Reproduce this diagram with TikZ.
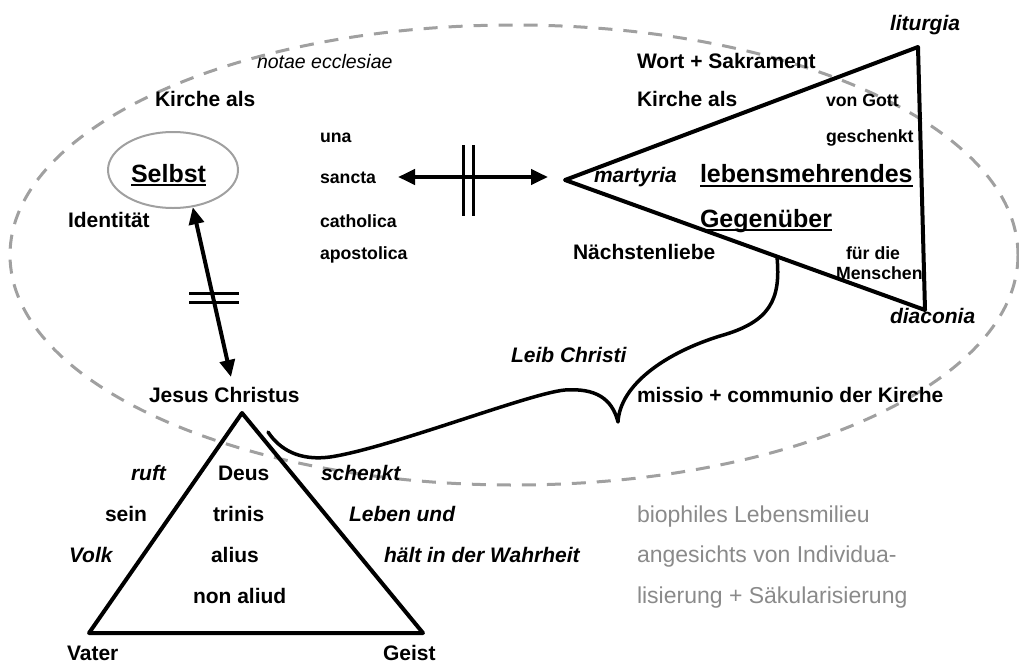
\documentclass[tikz,border=0pt]{standalone}
\usepackage{fontspec}
\setmainfont{Liberation Sans}
\usetikzlibrary{arrows.meta,shapes.geometric}
\definecolor{dgray}{HTML}{A0A0A0}
\definecolor{gtext}{HTML}{8A8A8A}
\begin{document}
\begin{tikzpicture}[x=1pt,y=-1pt,
  txt/.style={anchor=base west, inner sep=0pt, outer sep=0pt},
  bf/.style={txt, font=\bfseries\fontsize{21}{25}\selectfont},
  bfs/.style={txt, font=\bfseries\fontsize{17.7}{21}\selectfont},
  bfl/.style={txt, font=\bfseries\fontsize{25}{30}\selectfont},
  bi/.style={txt, font=\bfseries\itshape\fontsize{21}{25}\selectfont},
  itx/.style={txt, font=\itshape\fontsize{19.5}{23}\selectfont},
  gr/.style={txt, font=\fontsize{23}{27}\selectfont, text=gtext},
  heavy/.style={line width=4pt, line join=round},
  dblarrow/.style={line width=4pt, {Triangle[length=17pt,width=15pt]}-{Triangle[length=17pt,width=15pt]}},
  barline/.style={line width=3pt},
  uline/.style={line width=2pt},
]
\useasboundingbox (0,0) rectangle (1019,664);
% background dashed ellipse
\draw[dgray, line width=3pt, dash pattern=on 14pt off 11pt] (514,255) ellipse [x radius=504, y radius=230];

% Selbst
\node[draw=dgray, line width=2pt, ellipse, minimum width=130pt, minimum height=76pt] (selbstE) at (173,170) {};
\node[bfl] (selbst) at (131,182) {Selbst};
\draw[uline] ([yshift=-3pt]selbst.base west) -- ([yshift=-3pt]selbst.base east);

\node[itx] (notae) at (257,68) {notae ecclesiae};
\node[bf] (kirche1) at (155,106) {Kirche als};
\node[bf] (ident) at (68,227) {Identität};

\node[bfs] (una) at (320,142) {una};
\node[bfs] (sancta) at (320,183) {sancta};
\node[bfs] (cath) at (320,227) {catholica};
\node[bfs] (apos) at (320,259) {apostolica};

% right triangle
\coordinate (tl) at (565,180);
\coordinate (tt) at (918,47);
\coordinate (tb) at (925,310);
\draw[heavy] (tl) -- (tt) -- (tb) -- cycle;

\node[bi] (lit) at (890,30) {liturgia};
\node[bf] (wort) at (637,68) {Wort + Sakrament};
\node[bf] (kirche2) at (637,106) {Kirche als};
\node[bfs] (vongott) at (826,106) {von Gott};
\node[bfs] (gesch) at (826,142) {geschenkt};
\node[bi] (mart) at (594,182) {martyria};
\node[bfl] (lebens) at (700,182) {lebensmehrendes};
\draw[uline] ([yshift=-4pt]lebens.base west) -- ([yshift=-4pt]lebens.base east);
\node[bfl] (gegen) at (700,227) {Gegenüber};
\draw[uline] ([yshift=-3pt]gegen.base west) -- ([yshift=-3pt]gegen.base east);
\node[bf] (naechst) at (573,259) {Nächstenliebe};
\node[bfs] (fuer) at (846,259) {für die};
\node[bfs] (mensch) at (836,279) {Menschen};
\node[bi] (diac) at (890,323) {diaconia};

% horizontal arrow with double bar
\coordinate (hl) at (398,177);
\coordinate (hr) at (548,177);
\draw[dblarrow] (hl) -- (hr);
\draw[barline] (463,145) -- (463,216);
\draw[barline] (473,145) -- (473,216);

% vertical arrow with double bar
\coordinate (vt) at (231,377);
\draw[dblarrow] (selbstE.-62) -- (vt);
\draw[barline] (189,293) -- (239,293);
\draw[barline] (189,302) -- (239,302);

% trinity triangle
\coordinate (ja) at (242,413);
\coordinate (jl) at (89,633);
\coordinate (jr) at (423,633);
\draw[heavy] (ja) -- (jl) -- (jr) -- cycle;

\node[bf] (jesus) at (149,402) {Jesus Christus};
\node[bi] (ruft) at (131,480) {ruft};
\node[bf] (deus) at (218,480) {Deus};
\node[bi] (schenkt) at (321,480) {schenkt};
\node[bf] (sein) at (105,521) {sein};
\node[bf] (trinis) at (213,521) {trinis};
\node[bi] (leben) at (349,521) {Leben und};
\node[bi] (volk) at (69,562) {Volk};
\node[bf] (alius) at (211,562) {alius};
\node[bi] (haelt) at (384,562) {hält in der Wahrheit};
\node[bf] (nonaliud) at (193,603) {non aliud};
\node[bf] (vater) at (67,660) {Vater};
\node[bf] (geist) at (383,660) {Geist};

% brace (Leib Christi)
\coordinate (bs) at (777,257);
\coordinate (btip) at (618,422);
\coordinate (be) at (268,432);
\draw[line width=3.5pt, line join=round, line cap=round]
  (bs) .. controls (781,300) and (770,322) .. (720,336)
       .. controls (665,353) and (620,385) .. (btip)
       .. controls (612,398) and (595,388) .. (565,390)
       .. controls (530,393) and (390,448) .. (330,457)
       .. controls (300,461) and (280,450) .. (be);
\node[bi] (leib) at (511,362) {Leib Christi};
\node[bf] (missio) at (637,402) {missio + communio der Kirche};

% gray text
\node[gr] (bio) at (637,522) {biophiles Lebensmilieu};
\node[gr] (anges) at (637,562) {angesichts von Individua-};
\node[gr] (lisi) at (637,603) {lisierung + Säkularisierung};
\end{tikzpicture}
\end{document}
